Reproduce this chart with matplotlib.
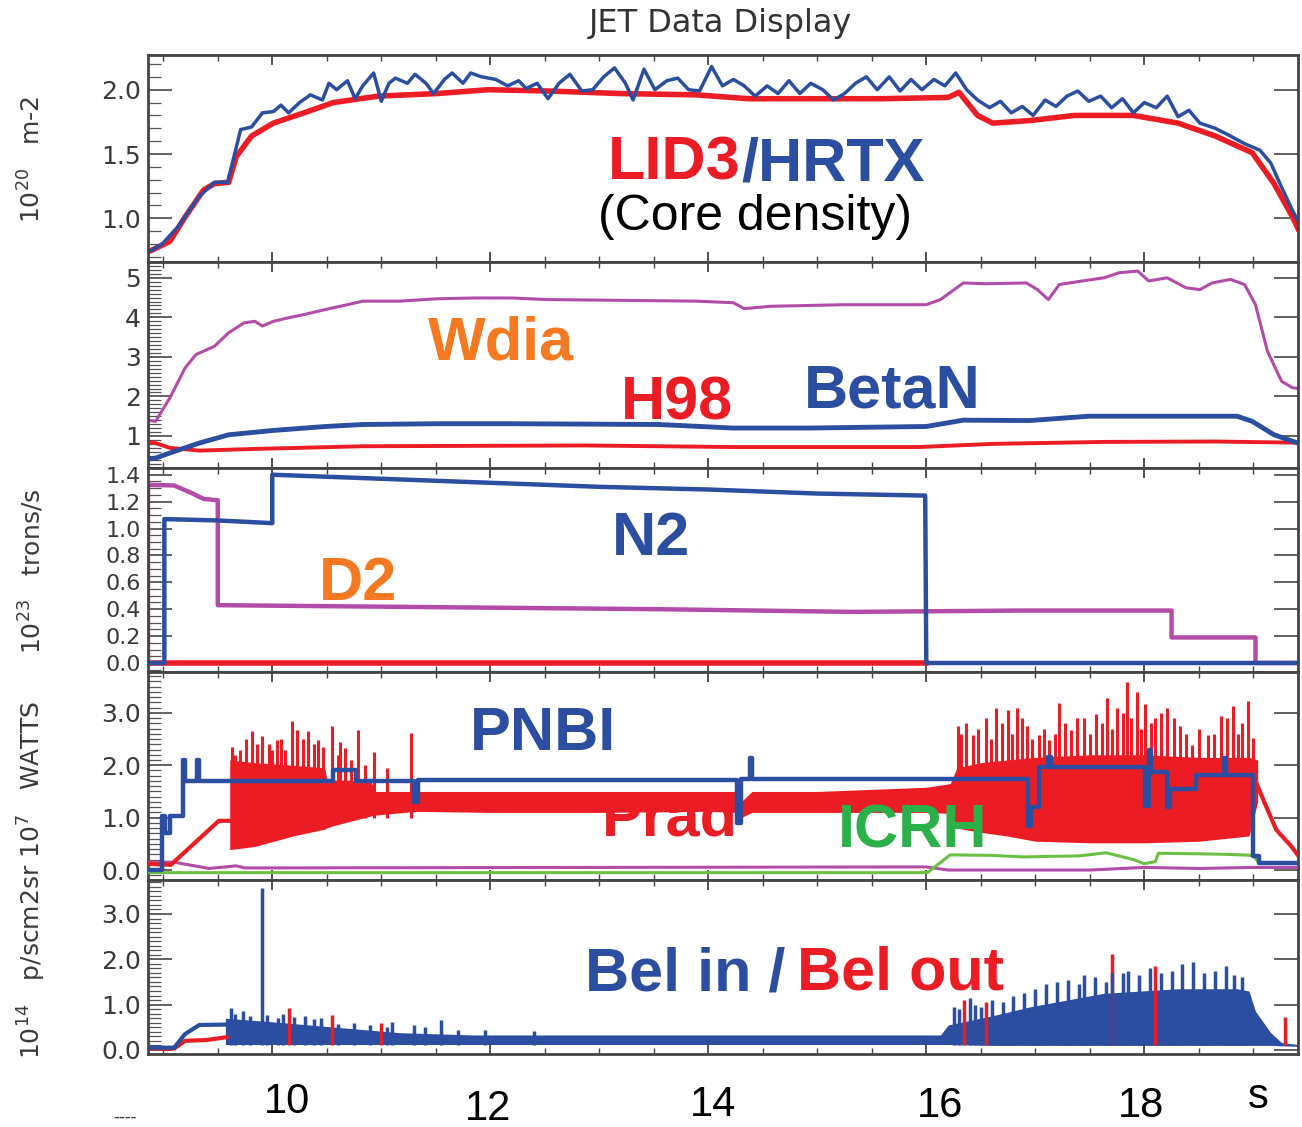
import numpy as np
import matplotlib.pyplot as plt
from matplotlib.ticker import MultipleLocator, FixedLocator

plt.rcParams['font.family'] = ['DejaVu Sans']

RED = '#ec1c24'
BLUE = '#2c4ea0'
MAGENTA = '#b24ca8'
ORANGE = '#f47920'
GREEN_TXT = '#2bb04a'
GREEN = '#6cbf45'
GREY = '#3a3a3a'

T0, T1 = 8.86, 19.41

# panel 1 : core density, 1e20 m-2
lid3_t = [8.86, 8.89, 9.06, 9.20, 9.37, 9.47, 9.60, 9.67, 9.81, 10.01, 10.29, 10.56,
          10.97, 11.51, 11.98, 12.53, 13.20, 13.89, 14.37, 14.91, 15.59, 16.20, 16.30,
          16.47, 16.61, 16.95, 17.36, 17.90, 18.31, 18.65, 18.99, 19.19, 19.36, 19.41]
lid3_v = [0.74, 0.75, 0.82, 1.01, 1.22, 1.27, 1.28, 1.48, 1.64, 1.74, 1.82, 1.90,
          1.95, 1.97, 2.00, 1.99, 1.97, 1.96, 1.93, 1.93, 1.93, 1.94, 1.98,
          1.80, 1.74, 1.76, 1.80, 1.80, 1.74, 1.64, 1.51, 1.27, 1.01, 0.92]

hrtx_t = [8.86, 8.89, 8.99, 9.13, 9.33, 9.47, 9.59, 9.64, 9.71, 9.81, 9.91, 10.01, 10.08,
          10.15, 10.25, 10.35, 10.46, 10.52, 10.59, 10.69, 10.76, 10.83, 10.93, 11.00,
          11.07, 11.13, 11.24, 11.31, 11.41, 11.48, 11.58, 11.65, 11.75, 11.82, 11.92,
          12.05, 12.16, 12.26, 12.33, 12.43, 12.53, 12.63, 12.73, 12.84, 12.94, 13.04,
          13.14, 13.24, 13.31, 13.41, 13.51, 13.62, 13.72, 13.82, 13.92, 14.03, 14.13,
          14.23, 14.33, 14.43, 14.54, 14.64, 14.74, 14.84, 14.94, 15.05, 15.15, 15.25,
          15.35, 15.45, 15.55, 15.66, 15.76, 15.86, 15.96, 16.07, 16.17, 16.27, 16.37,
          16.47, 16.58, 16.68, 16.78, 16.88, 16.98, 17.09, 17.19, 17.29, 17.39, 17.49,
          17.60, 17.70, 17.80, 17.90, 18.00, 18.11, 18.21, 18.31, 18.41, 18.51, 18.65,
          18.79, 18.92, 19.06, 19.16, 19.26, 19.36, 19.41]
hrtx_v = [0.74, 0.75, 0.80, 0.93, 1.17, 1.28, 1.28, 1.45, 1.69, 1.71, 1.82, 1.83, 1.88,
          1.82, 1.90, 1.96, 1.92, 2.05, 2.00, 2.07, 1.93, 2.03, 2.13, 1.91,
          2.05, 2.09, 2.05, 2.12, 2.05, 1.97, 2.08, 2.13, 2.05, 2.13, 2.10,
          2.08, 2.03, 2.07, 2.01, 2.05, 1.93, 2.05, 2.12, 1.99, 2.00, 2.10,
          2.17, 2.05, 1.92, 2.16, 2.00, 2.07, 2.09, 2.00, 1.99, 2.18, 2.03,
          2.08, 2.03, 1.95, 2.03, 1.97, 2.07, 1.97, 2.05, 2.00, 1.92, 1.97,
          2.05, 2.10, 2.00, 2.10, 1.99, 2.08, 2.00, 2.08, 2.03, 2.13, 2.00,
          1.92, 1.86, 1.91, 1.82, 1.87, 1.80, 1.92, 1.87, 1.95, 1.99, 1.91,
          1.95, 1.86, 1.93, 1.82, 1.90, 1.86, 1.95, 1.79, 1.84, 1.74, 1.70,
          1.64, 1.58, 1.53, 1.43, 1.24, 1.06, 0.98]

# panel 2 : Wdia, BetaN, H98
wdia_t = [8.86, 8.93, 9.06, 9.20, 9.30, 9.47, 9.60, 9.74, 9.84, 9.91, 10.01, 10.15, 10.29,
          10.49, 10.69, 10.83, 11.17, 11.51, 11.85, 12.19, 12.53, 13.21, 13.89, 14.23,
          14.33, 14.57, 15.25, 16.00, 16.13, 16.34, 16.54, 16.92, 17.02, 17.12, 17.22,
          17.43, 17.63, 17.77, 17.94, 18.04, 18.21, 18.38, 18.51, 18.62, 18.79, 18.92,
          19.02, 19.13, 19.26, 19.36, 19.41]
wdia_v = [1.40, 1.37, 1.96, 2.72, 3.06, 3.27, 3.61, 3.86, 3.90, 3.78, 3.90, 3.99, 4.07,
          4.20, 4.32, 4.41, 4.41, 4.47, 4.49, 4.49, 4.45, 4.43, 4.41, 4.37,
          4.22, 4.28, 4.32, 4.32, 4.45, 4.87, 4.85, 4.87, 4.70, 4.45, 4.83,
          4.92, 5.00, 5.13, 5.17, 4.92, 5.00, 4.75, 4.70, 4.87, 4.96, 4.83,
          4.32, 3.14, 2.38, 2.22, 2.20]

betan_t = [8.86, 8.93, 9.06, 9.33, 9.60, 10.01, 10.49, 10.83, 11.51, 12.19, 13.55, 14.23,
           14.91, 16.00, 16.34, 16.95, 17.49, 17.97, 18.85, 18.99, 19.19, 19.41]
betan_v = [0.42, 0.44, 0.57, 0.82, 1.03, 1.14, 1.24, 1.29, 1.31, 1.31, 1.29, 1.20,
           1.20, 1.24, 1.40, 1.39, 1.50, 1.50, 1.50, 1.37, 1.03, 0.82]

h98_t = [8.86, 8.93, 9.06, 9.33, 9.81, 10.83, 12.87, 14.23, 15.93, 16.61, 17.63, 18.65, 19.41]
h98_v = [0.84, 0.82, 0.70, 0.63, 0.67, 0.74, 0.76, 0.72, 0.72, 0.80, 0.85, 0.86, 0.83]

# panel 3 : gas fuelling, 1e23 electrons/s
n2_t = [8.86, 9.01, 9.01, 9.50, 10.00, 10.00, 11.00, 12.00, 13.00, 14.00, 15.00, 15.99,
        16.00, 19.41]
n2_v = [0.00, 0.00, 1.07, 1.06, 1.04, 1.40, 1.37, 1.34, 1.31, 1.29, 1.26, 1.245,
        0.00, 0.00]

d2_t = [8.86, 8.86, 9.10, 9.27, 9.37, 9.50, 9.50, 10.83, 12.19, 13.55, 15.32, 16.88,
        18.25, 18.25, 19.02, 19.02, 19.41]
d2_v = [0.00, 1.325, 1.32, 1.26, 1.22, 1.21, 0.43, 0.42, 0.41, 0.40, 0.38, 0.39,
        0.39, 0.19, 0.19, 0.00, 0.00]

red3_t = [8.86, 16.00]
red3_v = [0.00, 0.00]

# panel 4 : heating and radiated power, 1e7 W
pnbi_t = [8.86, 8.99, 8.99, 9.02, 9.02, 9.06, 9.06, 9.18, 9.18, 9.20, 9.20, 9.31, 9.31,
          9.33, 9.33, 10.56, 10.56, 10.77, 10.77, 11.30, 11.30, 11.34, 11.34, 14.26,
          14.26, 14.30, 14.30, 14.38, 14.38, 14.40, 14.40, 16.93, 16.93, 16.96, 16.96,
          17.03, 17.03, 17.12, 17.12, 17.14, 17.14, 18.01, 18.01, 18.04, 18.04, 18.06,
          18.06, 18.21, 18.21, 18.24, 18.24, 18.47, 18.47, 18.73, 18.73, 18.75, 18.75,
          19.00, 19.00, 19.05, 19.05, 19.41]
pnbi_v = [0.00, 0.00, 1.03, 1.03, 0.71, 0.71, 1.03, 1.03, 2.10, 2.10, 1.70, 1.70, 2.10,
          2.10, 1.70, 1.70, 1.90, 1.90, 1.70, 1.70, 1.30, 1.30, 1.72, 1.72,
          0.90, 0.90, 1.74, 1.74, 2.13, 2.13, 1.74, 1.74, 0.84, 0.84, 1.20,
          1.20, 1.97, 1.97, 2.16, 2.16, 1.97, 1.97, 1.23, 1.23, 2.29, 2.29,
          1.87, 1.87, 1.20, 1.20, 1.55, 1.55, 1.81, 1.81, 2.13, 2.13, 1.81,
          1.81, 0.26, 0.26, 0.14, 0.14]

prad_t = [8.86, 9.07, 9.51, 9.62]
prad_v = [0.12, 0.10, 0.94, 0.94]
prad_band_t = [9.61, 9.84, 10.19, 10.48, 10.50, 10.55, 10.90, 10.95, 11.32, 12.00, 13.00,
               14.00, 14.26, 14.30, 14.40, 15.00, 16.00, 16.22, 16.28, 16.50, 16.74,
               17.00, 17.50, 18.00, 18.50, 18.96, 19.04]
prad_lo = [0.39, 0.45, 0.65, 0.78, 0.80, 0.84, 1.03, 1.05, 1.12, 1.10, 1.10,
           1.12, 1.10, 1.00, 1.10, 1.10, 1.10, 1.08, 0.80, 0.72, 0.65,
           0.55, 0.52, 0.52, 0.55, 0.65, 1.30]
prad_hi = [2.10, 2.05, 2.00, 1.95, 1.75, 1.72, 1.70, 1.50, 1.50, 1.50, 1.50,
           1.50, 1.50, 1.30, 1.50, 1.50, 1.58, 1.65, 1.95, 2.05, 2.10,
           2.15, 2.20, 2.20, 2.15, 2.15, 2.10]
prad_tail_t = [19.02, 19.10, 19.21, 19.35, 19.41]
prad_tail_v = [1.70, 1.30, 0.77, 0.45, 0.28]
prad_spike_t = [9.63, 9.66, 9.70, 9.76, 9.81, 9.86, 9.91, 9.97, 10.00, 10.04, 10.08, 10.12,
                10.18, 10.23, 10.28, 10.33, 10.38, 10.42, 10.47, 10.55, 10.60, 10.62,
                10.67, 10.72, 10.79, 10.85, 10.93, 11.05, 11.27,
                16.29, 16.32, 16.36, 16.43, 16.47, 16.55, 16.59, 16.64, 16.69, 16.75,
                16.79, 16.83, 16.88, 16.92, 16.97, 17.03, 17.08, 17.13, 17.18, 17.22,
                17.27, 17.33, 17.38, 17.45, 17.50, 17.56, 17.61, 17.66, 17.70, 17.75,
                17.80, 17.84, 17.88, 17.93, 17.97, 18.01, 18.06, 18.10, 18.15, 18.21,
                18.27, 18.33, 18.38, 18.44, 18.50, 18.58, 18.64, 18.70, 18.76, 18.81,
                18.86, 18.90, 18.95, 19.00]
prad_spike_v = [2.35, 2.20, 2.30, 2.50, 2.65, 2.40, 2.55, 2.40, 2.30, 2.48, 2.50, 2.30,
                2.84, 2.68, 2.50, 2.65, 2.40, 2.48, 2.35, 2.74, 2.20, 2.45,
                2.32, 2.10, 2.68, 2.00, 2.26, 1.95, 2.61,
                2.74, 2.60, 2.81, 2.58, 2.70, 2.90, 2.50, 3.10, 2.80, 3.06,
                2.60, 3.10, 2.90, 2.74, 2.50, 2.58, 2.70, 2.48, 2.60, 3.19,
                2.80, 2.68, 2.90, 2.90, 2.60, 2.97, 2.80, 3.29, 2.70, 3.10,
                3.00, 3.58, 2.90, 3.39, 2.70, 3.16, 2.80, 2.90, 3.00, 3.10,
                2.90, 2.74, 2.60, 2.39, 2.70, 2.58, 2.60, 2.94, 2.90, 3.13,
                2.60, 2.80, 3.23, 2.52]

icrh_t = [8.86, 16.01, 16.22, 16.60, 16.90, 17.10, 17.40, 17.65, 17.90, 18.00, 18.10,
          18.13, 18.50, 18.75, 19.00, 19.05, 19.41]
icrh_v = [-0.05, -0.05, 0.29, 0.28, 0.25, 0.26, 0.27, 0.33, 0.20, 0.12, 0.16,
          0.32, 0.31, 0.30, 0.28, 0.14, 0.13]

mag4_t = [8.86, 9.10, 9.42, 9.67, 9.75, 16.00, 16.20, 17.50, 18.00, 18.50, 19.00, 19.41]
mag4_v = [0.15, 0.15, 0.03, 0.08, 0.04, 0.06, 0.00, 0.00, 0.05, 0.03, 0.05, 0.05]

# panel 5 : Be I in / out, 1e14 ph/s cm2 sr
belin_t = [8.86, 9.10, 9.20, 9.33, 9.58]
belin_v = [0.05, 0.05, 0.35, 0.55, 0.56]
belout_t = [8.86, 9.10, 9.20, 9.40, 9.58]
belout_v = [0.03, 0.03, 0.20, 0.22, 0.28]
bel_band_t = [9.57, 10.00, 10.49, 11.17, 11.85, 16.13, 16.20, 16.60, 16.95, 17.29, 17.63,
              18.31, 18.85, 18.96, 19.02, 19.16, 19.26, 19.41]
bel_lo = [0.12, 0.12, 0.12, 0.12, 0.12, 0.12, 0.12, 0.10, 0.10, 0.10, 0.10,
          0.10, 0.10, 0.10, 0.10, 0.10, 0.09, 0.08]
bel_hi = [0.70, 0.62, 0.52, 0.38, 0.33, 0.33, 0.55, 0.75, 0.95, 1.10, 1.25,
          1.35, 1.35, 1.30, 0.85, 0.38, 0.16, 0.12]
belin_spike_t = [9.62, 9.66, 9.73, 9.80, 9.91, 9.95, 10.05, 10.10, 10.20, 10.30, 10.38,
                 10.45, 10.60, 10.75, 10.90, 11.05, 11.10, 11.30, 11.40, 11.55, 11.70,
                 11.95, 12.40, 16.25, 16.30, 16.40, 16.45, 16.50, 16.60, 16.70, 16.80,
                 16.90, 17.00, 17.10, 17.20, 17.30, 17.40, 17.45, 17.55, 17.65, 17.70,
                 17.80, 17.85, 17.95, 18.05, 18.15, 18.25, 18.35, 18.45, 18.55, 18.65,
                 18.75, 18.82, 18.90]
belin_spike_v = [0.93, 0.80, 0.85, 0.75, 3.58, 0.78, 0.70, 0.80, 0.72, 0.75, 0.68,
                 0.70, 0.58, 0.60, 0.55, 0.50, 0.62, 0.55, 0.50, 0.65, 0.45,
                 0.45, 0.42, 0.95, 0.90, 1.15, 1.00, 0.95, 1.10, 1.05, 1.20,
                 1.25, 1.35, 1.45, 1.50, 1.55, 1.45, 1.65, 1.60, 1.50, 1.70,
                 1.70, 1.75, 1.65, 1.80, 1.70, 1.75, 1.90, 1.95, 1.70, 1.75,
                 1.85, 1.65, 1.60]
belout_spike_t = [10.15, 10.55, 11.00, 16.35, 16.55, 17.70, 18.10, 19.29]
belout_spike_v = [0.93, 0.78, 0.60, 1.10, 1.05, 2.11, 1.85, 0.73]

# y axes: limits, major ticks, labels, minor step
ylims = [(0.66, 2.27), (0.19, 5.40), (-0.067, 1.45), (-0.19, 3.78), (-0.09, 3.75)]
yticks = [[1.0, 1.5, 2.0], [1, 2, 3, 4, 5], [0.0, 0.2, 0.4, 0.6, 0.8, 1.0, 1.2, 1.4],
          [0.0, 1.0, 2.0, 3.0], [0.0, 1.0, 2.0, 3.0]]
yticklabels = [['1.0', '1.5', '2.0'], ['1', '2', '3', '4', '5'],
               ['0.0', '0.2', '0.4', '0.6', '0.8', '1.0', '1.2', '1.4'],
               ['0.0', '1.0', '2.0', '3.0'], ['0.0', '1.0', '2.0', '3.0']]
yminor = [0.1, 0.1, 0.05, 0.1, 0.1]

W, H = 1302, 1127
fig = plt.figure(figsize=(W / 100, H / 100), dpi=100)

# panel boxes in pixels: (top, bottom)
boxes = [(55, 262), (262, 468), (468, 672), (672, 880), (880, 1054)]
left_px, right_px = 148, 1298
axes = []
for i, (top, bot) in enumerate(boxes):
    ax = fig.add_axes([left_px / W, 1 - bot / H, (right_px - left_px) / W, (bot - top) / H])
    ax.set_xlim(T0, T1)
    ax.set_ylim(*ylims[i])
    ax.xaxis.set_major_locator(MultipleLocator(2))
    ax.xaxis.set_minor_locator(MultipleLocator(0.5))
    ax.yaxis.set_major_locator(FixedLocator(yticks[i]))
    ax.set_yticklabels(yticklabels[i])
    ax.yaxis.set_minor_locator(MultipleLocator(yminor[i]))
    ax.tick_params(axis='x', which='both', direction='in', top=True, bottom=True,
                   labelbottom=False, color='#444444')
    ax.tick_params(axis='x', which='major', length=7, width=1.3)
    ax.tick_params(axis='x', which='minor', length=4, width=1.0)
    ax.tick_params(axis='y', which='both', direction='in', left=True, right=True,
                   color='#555555', labelcolor=GREY,
                   labelsize=16 if i == 2 else 18, pad=5)
    ax.tick_params(axis='y', which='major', length=17, width=1.3)
    ax.tick_params(axis='y', which='minor', length=9, width=0.9, right=False)
    for sp in ax.spines.values():
        sp.set_linewidth(2.0)
        sp.set_color('#444444')
    axes.append(ax)

ax1, ax2, ax3, ax4, ax5 = axes

ax1.plot(lid3_t, lid3_v, color=RED, lw=4)
ax1.plot(hrtx_t, hrtx_v, color=BLUE, lw=2.5)

ax2.plot(wdia_t, wdia_v, color=MAGENTA, lw=2.2)
ax2.plot(h98_t, h98_v, color=RED, lw=2.8)
ax2.plot(betan_t, betan_v, color=BLUE, lw=3.5)

ax3.plot(red3_t, red3_v, color=RED, lw=4)
ax3.plot(d2_t, d2_v, color=MAGENTA, lw=3.2)
ax3.plot(n2_t, n2_v, color=BLUE, lw=3.2)

ax4.plot(mag4_t, mag4_v, color=MAGENTA, lw=2.2, zorder=3)
ax4.plot(icrh_t, icrh_v, color=GREEN, lw=2.2, zorder=3)
ax4.plot(prad_t, prad_v, color=RED, lw=3, zorder=4)
ax4.fill_between(prad_band_t, prad_lo, prad_hi, color=RED, lw=0, zorder=4)
ax4.vlines(prad_spike_t, 1.0, prad_spike_v, color=RED, lw=2.2, zorder=4)
ax4.plot(prad_tail_t, prad_tail_v, color=RED, lw=3, zorder=4)
ax4.plot(pnbi_t, pnbi_v, color=BLUE, lw=3.2, zorder=5)

ax5.plot(belout_t, belout_v, color=RED, lw=3)
ax5.vlines(belout_spike_t, 0.1, belout_spike_v, color=RED, lw=2.5)
ax5.plot(belin_t, belin_v, color=BLUE, lw=3)
ax5.fill_between(bel_band_t, bel_lo, bel_hi, color=BLUE, lw=0)
ax5.vlines(belin_spike_t, 0.1, belin_spike_v, color=BLUE, lw=2.5)


def ftext(x, y, s, **kw):
    fig.text(x / W, 1 - y / H, s, **kw)


lab = dict(family=['Liberation Sans', 'DejaVu Sans'], fontweight='bold', fontsize=44,
           va='baseline')

ftext(720, 32, 'JET Data Display', fontsize=23, color='#333333', ha='center', va='baseline')

ftext(741, 180, 'LID3', color=RED, ha='right', **lab)
ftext(741, 180, '/HRTX', color=BLUE, ha='left', **lab)
ftext(755, 230, '(Core density)', color='black', ha='center', va='baseline',
      fontsize=36, family=['Liberation Sans', 'DejaVu Sans'])

ftext(501, 360, 'Wdia', color=ORANGE, ha='center', **lab)
ftext(677, 420, 'H98', color=RED, ha='center', **lab)
ftext(892, 408, 'BetaN', color=BLUE, ha='center', **lab)

ftext(651, 555, 'N2', color=BLUE, ha='center', **lab)
ftext(358, 600, 'D2', color=ORANGE, ha='center', **lab)

ftext(543, 750, 'PNBI', color=BLUE, ha='center', **lab)
ftext(670, 836, 'Prad', color=RED, ha='center', zorder=0.5, **lab)
ftext(913, 848, 'ICRH', color=GREEN_TXT, ha='center', zorder=10, **lab)

ftext(785, 990, 'Bel in /', color=BLUE, ha='right', zorder=10, **lab)
ftext(797, 990, 'Bel out', color=RED, ha='left', zorder=10, **lab)

# y axis units
ftext(32, 159, r'10$^{20}$   m-2', rotation=90, fontsize=18, color=GREY,
      ha='center', va='center')
ftext(32, 571, r'10$^{23}$   trons/s', rotation=90, fontsize=18, color=GREY,
      ha='center', va='center')
ftext(32, 880, r'10$^{14}$   p/scm2sr 10$^{7}$   WATTS', rotation=90, fontsize=18,
      color=GREY, ha='center', va='center')

# time labels under the bottom panel
tl = dict(family=['Liberation Sans', 'DejaVu Sans'], fontsize=30, color='black',
          ha='center', va='baseline')
ftext(287, 1113, '10', **tl)
ftext(488, 1120, '12', **tl)
ftext(713, 1116, '14', **tl)
ftext(940, 1117, '16', **tl)
ftext(1141, 1117, '18', **tl)
ftext(1258, 1108, 's', **tl)
ftext(125, 1122, '----', fontsize=12, color=GREY, ha='center', va='baseline')

fig.savefig('out.png', dpi=100)
